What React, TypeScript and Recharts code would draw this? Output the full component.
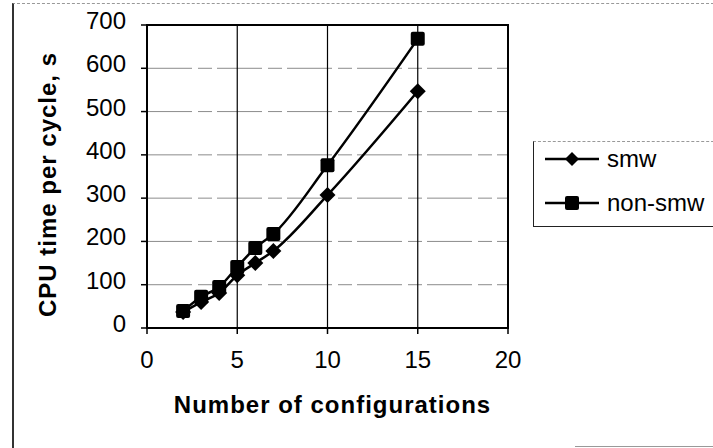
import { LineChart, Line, XAxis, YAxis, CartesianGrid, ReferenceArea } from 'recharts'

// configurations on the x axis, CPU seconds per cycle for each run type
const configs = [2, 3, 4, 5, 6, 7, 10, 15]
const smw = [37, 60, 81, 122, 150, 178, 307, 547]
const nonSmw = [39, 72, 95, 141, 185, 217, 376, 668]
const xTicks = [0, 5, 10, 15, 20]
const yTicks = [0, 100, 200, 300, 400, 500, 600, 700]
const seriesNames = ['smw', 'non-smw']

const font = '"Liberation Sans", Arial, sans-serif'

const data = configs.map((n, i) => ({ n, smw: smw[i], nonSmw: nonSmw[i] }))

const Diamond = (props: any) => {
  const { cx, cy, index } = props
  if (cx == null || cy == null) return <g key={`dm-${index}`} />
  return <path key={`dm-${index}`} d={`M${cx},${cy - 8}L${cx + 8},${cy}L${cx},${cy + 8}L${cx - 8},${cy}Z`} fill="#000" />
}

const Square = (props: any) => {
  const { cx, cy, index } = props
  if (cx == null || cy == null) return <g key={`sq-${index}`} />
  return <rect key={`sq-${index}`} x={cx - 7} y={cy - 7} width={14} height={14} rx={2} fill="#000" />
}

const XTick = ({ x, y, payload }: any) => (
  <text x={x} y={y + 32} textAnchor="middle" fontSize={24} fontFamily={font} fill="#000">
    {payload.value}
  </text>
)

const YTick = ({ x, y, payload }: any) => (
  <text x={x} y={y + 4} textAnchor="end" fontSize={24} fontFamily={font} fill="#000">
    {payload.value}
  </text>
)

const XTitle = (props: any) => {
  const vb = props.viewBox || { x: 147, y: 328, width: 361, height: 60 }
  return (
    <text x={vb.x + vb.width / 2 + 5} y={vb.y + 85} textAnchor="middle" fontSize={24} fontWeight="bold" letterSpacing={1} fontFamily={font} fill="#000">
      Number of configurations
    </text>
  )
}

const YTitle = (props: any) => {
  const vb = props.viewBox || { x: 87, y: 25, width: 60, height: 303 }
  const cx = 56
  const cy = vb.y + vb.height / 2 + 8
  return (
    <text x={cx} y={cy} transform={`rotate(-90 ${cx} ${cy})`} textAnchor="middle" fontSize={24} fontWeight="bold" letterSpacing={1} fontFamily={font} fill="#000">
      CPU time per cycle, s
    </text>
  )
}

const LegendBox = () => (
  <div style={{ position: 'absolute', left: 533, top: 141, width: 190, height: 84, borderLeft: '1px solid #222', borderBottom: '1px solid #222', borderTop: '1px dashed #999', background: '#fff' }}>
    <svg width={190} height={84} style={{ display: 'block' }}>
      {seriesNames.map((name, i) => {
        const y = 17 + i * 44
        return (
          <g key={name}>
            <line x1={11} x2={65} y1={y} y2={y} stroke="#000" strokeWidth={2.5} />
            {i === 0 ? (
              <path d={`M38,${y - 7}L45,${y}L38,${y + 7}L31,${y}Z`} fill="#000" />
            ) : (
              <rect x={31} y={y - 7} width={14} height={14} rx={2} fill="#000" />
            )}
            <text x={73} y={y + 8} fontSize={24} fontFamily={font} fill="#000">{name}</text>
          </g>
        )
      })}
    </svg>
  </div>
)

export default function App() {
  return (
    <div style={{ position: 'absolute', left: 0, top: 0, width: 713, height: 448, overflow: 'hidden', background: '#fff' }}>
      {/* scanned frame around the figure */}
      <div style={{ position: 'absolute', left: 12, top: 3, width: 720, height: 460, borderLeft: '2px solid #333', borderTop: '1px dashed #999' }} />
      <div style={{ position: 'absolute', left: 575, top: 446, width: 140, borderTop: '1px solid #999' }} />
      <LineChart
        width={713}
        height={448}
        data={data}
        margin={{ top: 25, right: 205, bottom: 60, left: 87 }}
        style={{ position: 'absolute', left: 0, top: 0, fontFamily: font }}
      >
        <CartesianGrid vertical={false} stroke="#8c8c8c" strokeDasharray="45 6 14 5" />
        <CartesianGrid horizontal={false} stroke="#000" strokeWidth={1.2} />
        <XAxis
          dataKey="n"
          type="number"
          domain={[0, 20]}
          ticks={xTicks}
          interval={0}
          height={60}
          tickSize={6}
          tickMargin={2}
          axisLine={{ stroke: '#000', strokeWidth: 2 }}
          tickLine={{ stroke: '#000', strokeWidth: 1.5 }}
          tick={<XTick />}
          label={<XTitle />}
        />
        <YAxis
          type="number"
          domain={[0, 700]}
          ticks={yTicks}
          interval={0}
          width={60}
          tickSize={6}
          tickMargin={15}
          axisLine={{ stroke: '#000', strokeWidth: 2 }}
          tickLine={{ stroke: '#000', strokeWidth: 1.5 }}
          tick={<YTick />}
          label={<YTitle />}
        />
        <ReferenceArea x1={0} x2={20} y1={0} y2={700} fill="none" stroke="#000" strokeWidth={2} ifOverflow="visible" />
        <Line
          dataKey="smw"
          name="smw"
          type="monotone"
          stroke="#000"
          strokeWidth={2.5}
          dot={Diamond}
          activeDot={false}
          isAnimationActive={false}
        />
        <Line
          dataKey="nonSmw"
          name="non-smw"
          type="monotone"
          stroke="#000"
          strokeWidth={2.5}
          dot={Square}
          activeDot={false}
          isAnimationActive={false}
        />
      </LineChart>
      <LegendBox />
    </div>
  )
}
